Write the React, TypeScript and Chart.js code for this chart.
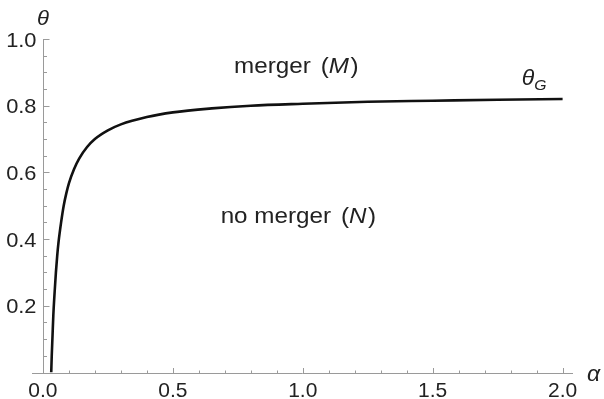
import React, { useEffect, useRef } from "react";
import { Chart, registerables } from "chart.js";

Chart.register(...registerables);

// ---- data ----
const ALPHA = [
  0.032, 0.034, 0.037, 0.04, 0.045, 0.05, 0.055, 0.06, 0.07, 0.08, 0.09, 0.1,
  0.12, 0.14, 0.17, 0.2, 0.25, 0.3, 0.4, 0.5, 0.65, 0.8, 1.0, 1.25, 1.5, 1.75, 2.0,
];
const THETA_G = [
  0.0, 0.05, 0.11, 0.17, 0.24, 0.3, 0.35, 0.39, 0.45, 0.5, 0.537, 0.567,
  0.61, 0.642, 0.676, 0.7, 0.726, 0.744, 0.766, 0.78, 0.792, 0.8, 0.806, 0.812, 0.815, 0.818, 0.82,
];

const X_TICKS = [0, 0.5, 1.0, 1.5, 2.0];
const X_TICK_LABELS = ["0.0", "0.5", "1.0", "1.5", "2.0"];
const Y_TICKS = [0.2, 0.4, 0.6, 0.8, 1.0];
const Y_TICK_LABELS = ["0.2", "0.4", "0.6", "0.8", "1.0"];
const X_MINOR_TICKS = [0.1, 0.2, 0.3, 0.4, 0.6, 0.7, 0.8, 0.9, 1.1, 1.2, 1.3, 1.4, 1.6, 1.7, 1.8, 1.9];
const Y_MINOR_TICKS = [0.05, 0.1, 0.15, 0.25, 0.3, 0.35, 0.45, 0.5, 0.55, 0.65, 0.7, 0.75, 0.85, 0.9, 0.95];

const X_AXIS_TITLE = "α";
const Y_AXIS_TITLE = "θ";
const CURVE_LABEL = "θ";
const CURVE_LABEL_SUB = "G";
const UPPER_REGION = ["merger", "(", "M", ")"];
const LOWER_REGION = ["no merger", "(", "N", ")"];

const FONT_FAMILY = '"Liberation Sans", Arial, Helvetica, sans-serif';

type Run = { text: string; italic?: boolean; size: number; dy?: number; gap?: number };

function drawRuns(
  ctx: CanvasRenderingContext2D,
  runs: Run[],
  x: number,
  y: number,
  align: "left" | "center" | "right",
  color: string,
  sx: number
) {
  let total = 0;
  const widths: number[] = [];
  for (const r of runs) {
    ctx.font = `${r.italic ? "italic " : ""}${r.size}px ${FONT_FAMILY}`;
    const w = ctx.measureText(r.text).width * sx + (r.gap || 0);
    widths.push(w);
    total += w;
  }
  let cur = align === "center" ? x - total / 2 : align === "right" ? x - total : x;
  ctx.fillStyle = color;
  ctx.textAlign = "left";
  runs.forEach((r, i) => {
    ctx.font = `${r.italic ? "italic " : ""}${r.size}px ${FONT_FAMILY}`;
    ctx.save();
    ctx.translate(cur, y + (r.dy || 0));
    ctx.scale(sx, 1);
    ctx.fillText(r.text, 0, 0);
    ctx.restore();
    cur += widths[i];
  });
}

const axesPlugin = {
  id: "mathAxes",
  beforeDatasetsDraw(chart: any) {
    const { ctx, scales } = chart;
    const xs = scales.x;
    const ys = scales.y;
    const x0 = Math.round(xs.getPixelForValue(0)) + 0.5;
    const y0 = Math.round(ys.getPixelForValue(0)) + 0.5;
    ctx.save();
    ctx.strokeStyle = "#9a9a9a";
    ctx.lineWidth = 1;
    ctx.beginPath();
    ctx.moveTo(chart.chartArea.left, y0);
    ctx.lineTo(chart.chartArea.right, y0);
    ctx.moveTo(x0, y0);
    ctx.lineTo(x0, Math.round(ys.getPixelForValue(1)));
    for (const v of X_TICKS) {
      const px = Math.round(xs.getPixelForValue(v)) + 0.5;
      ctx.moveTo(px, y0);
      ctx.lineTo(px, y0 - 5.5);
    }
    for (const v of X_MINOR_TICKS) {
      const px = Math.round(xs.getPixelForValue(v)) + 0.5;
      ctx.moveTo(px, y0);
      ctx.lineTo(px, y0 - 3);
    }
    for (const v of Y_TICKS) {
      const py = Math.round(ys.getPixelForValue(v)) + 0.5;
      ctx.moveTo(x0, py);
      ctx.lineTo(x0 + 6, py);
    }
    for (const v of Y_MINOR_TICKS) {
      const py = Math.round(ys.getPixelForValue(v)) + 0.5;
      ctx.moveTo(x0, py);
      ctx.lineTo(x0 + 3.5, py);
    }
    ctx.stroke();

    ctx.textBaseline = "alphabetic";
    X_TICKS.forEach((v, i) => {
      drawRuns(ctx, [{ text: X_TICK_LABELS[i], size: 21 }], xs.getPixelForValue(v), 397, "center", "#222", 1);
    });
    Y_TICKS.forEach((v, i) => {
      drawRuns(ctx, [{ text: Y_TICK_LABELS[i], size: 21 }], x0 - 7, ys.getPixelForValue(v) + 7.5, "right", "#222", 1.04);
    });
    ctx.restore();
  },
  afterDraw(chart: any) {
    const { ctx, scales } = chart;
    const xs = scales.x;
    const ys = scales.y;
    ctx.save();
    ctx.textBaseline = "alphabetic";
    drawRuns(ctx, [{ text: Y_AXIS_TITLE, italic: true, size: 21 }], xs.getPixelForValue(0), 25, "center", "#222", 1.05);
    drawRuns(ctx, [{ text: X_AXIS_TITLE, italic: true, size: 22 }], 587, 381, "left", "#222", 1.05);
    drawRuns(
      ctx,
      [
        { text: CURVE_LABEL, italic: true, size: 22 },
        { text: CURVE_LABEL_SUB, italic: true, size: 15, dy: 5 },
      ],
      xs.getPixelForValue(1.843),
      ys.getPixelForValue(0.862),
      "left",
      "#222",
      1.05
    );
    drawRuns(
      ctx,
      [
        { text: UPPER_REGION[0], size: 22, gap: 10 },
        { text: UPPER_REGION[1], size: 22 },
        { text: UPPER_REGION[2], italic: true, size: 22, gap: 1.5 },
        { text: UPPER_REGION[3], size: 22 },
      ],
      xs.getPixelForValue(0.975),
      ys.getPixelForValue(0.897),
      "center",
      "#222",
      1.1
    );
    drawRuns(
      ctx,
      [
        { text: LOWER_REGION[0], size: 22, gap: 10 },
        { text: LOWER_REGION[1], size: 22 },
        { text: LOWER_REGION[2], italic: true, size: 22, gap: 1.5 },
        { text: LOWER_REGION[3], size: 22 },
      ],
      xs.getPixelForValue(0.983),
      ys.getPixelForValue(0.448),
      "center",
      "#222",
      1.1
    );
    ctx.restore();
  },
};

export default function App() {
  const canvasRef = useRef<HTMLCanvasElement | null>(null);

  useEffect(() => {
    if (!canvasRef.current) return;
    const chart = new Chart(canvasRef.current, {
      type: "line",
      data: {
        datasets: [
          {
            label: "θG",
            data: ALPHA.map((a, i) => ({ x: a, y: THETA_G[i] })),
            borderColor: "#111",
            borderWidth: 2.6,
            pointRadius: 0,
            cubicInterpolationMode: "monotone",
            fill: false,
          },
        ],
      },
      options: {
        responsive: false,
        animation: false,
        devicePixelRatio: 1,
        layout: { padding: { left: 32, right: 31, top: 39, bottom: 26.5 } },
        plugins: { legend: { display: false }, tooltip: { enabled: false } },
        scales: {
          x: { type: "linear", min: -0.042, max: 2.04, display: false },
          y: { type: "linear", min: 0, max: 1, display: false },
        },
      },
      plugins: [axesPlugin],
    } as any);
    return () => chart.destroy();
  }, []);

  return (
    <div style={{ position: "absolute", left: 0, top: 0, width: 604, height: 399, background: "#fff" }}>
      <canvas ref={canvasRef} width={604} height={399} />
    </div>
  );
}
